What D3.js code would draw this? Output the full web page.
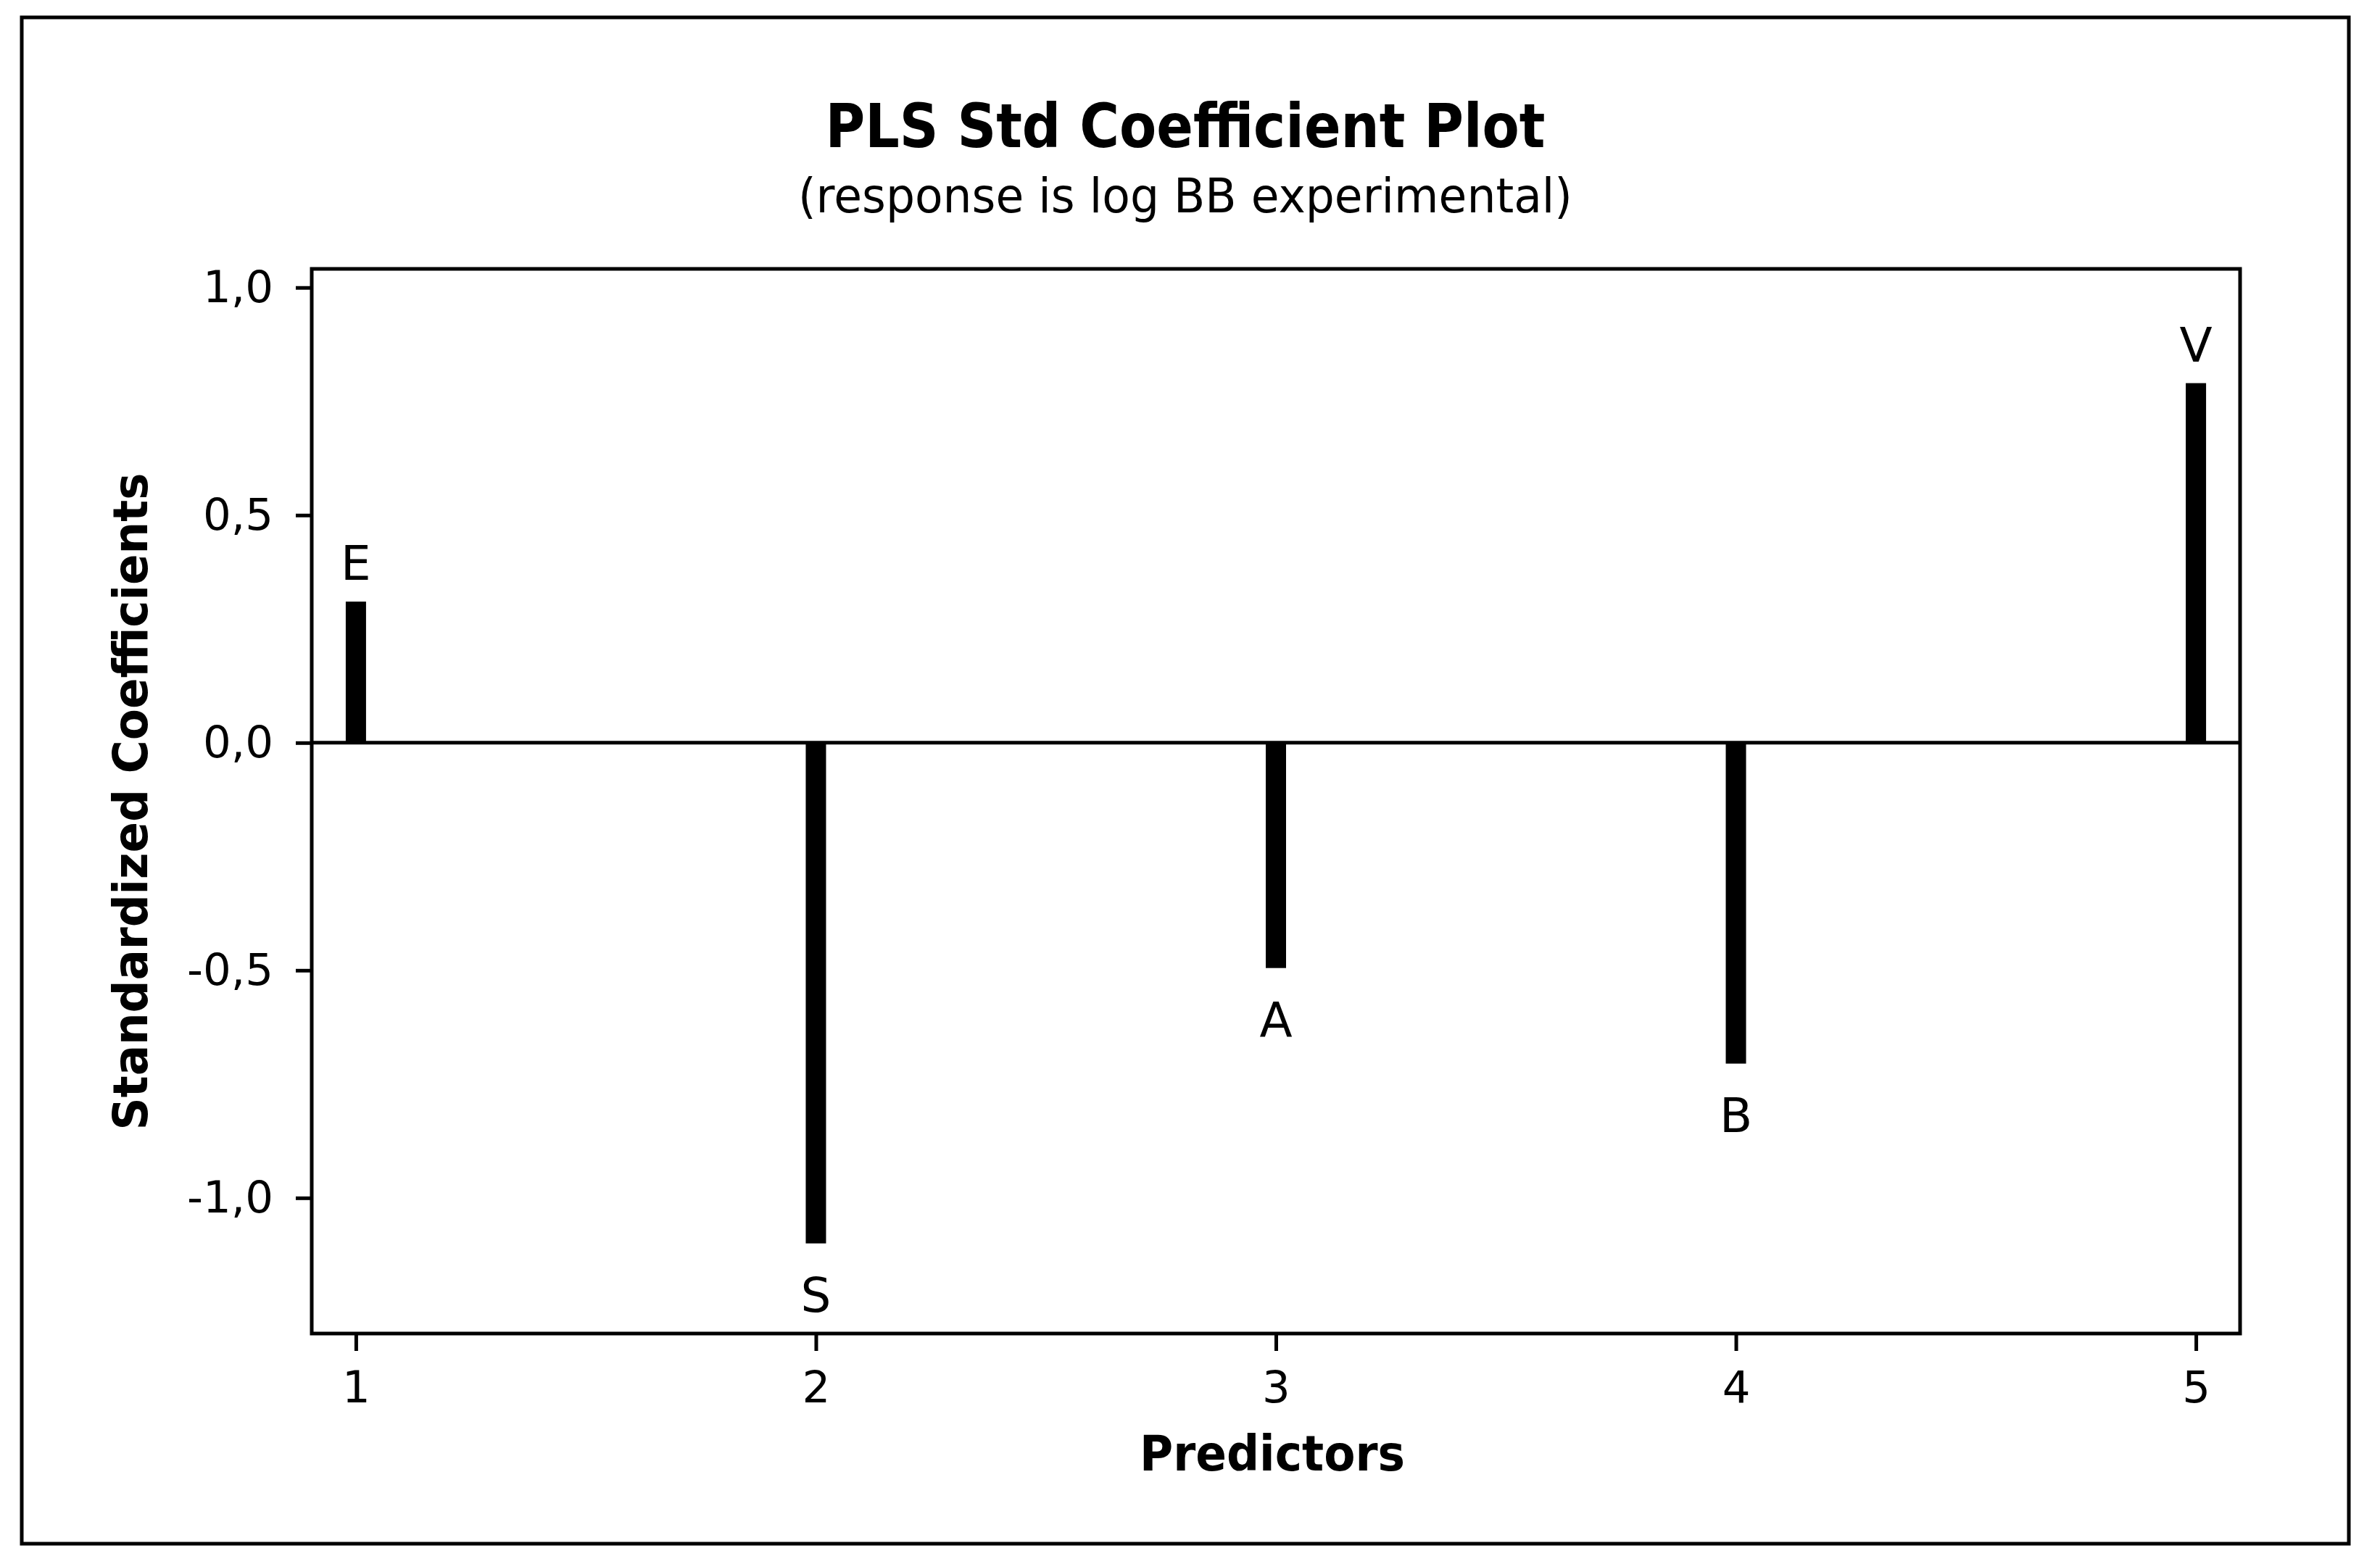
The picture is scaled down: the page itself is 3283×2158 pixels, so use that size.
<!DOCTYPE html>
<html>
<head>
<meta charset="utf-8">
<script src="https://cdn.jsdelivr.net/npm/d3@7"></script>
<style>
    body { margin: 0; background: #fff; }
    text { font-family: "DejaVu Sans", Verdana, sans-serif; fill: #000; }
</style>
</head>
<body>
<div id="plsChart"></div>
<script>
// data
var predictors = [1, 2, 3, 4, 5]
var predictorNames = ["E", "S", "A", "B", "V"]
var coefficients = [0.31, -1.10, -0.495, -0.705, 0.79]
var yTicks = [-1.0, -0.5, 0.0, 0.5, 1.0]
var yTickLabels = ["-1,0", "-0,5", "0,0", "0,5", "1,0"]
var xTickLabels = ["1", "2", "3", "4", "5"]

var W = 3283, H = 2158
var plot = { left: 430, right: 3090, top: 371, bottom: 1840 }

var svg = d3.select("#plsChart")
    .append("svg")
        .attr("width", W)
        .attr("height", H)

// outer border
svg.append("rect")
    .attr("x", 30).attr("y", 24)
    .attr("width", 3210).attr("height", 2106)
    .attr("fill", "none")
    .attr("stroke", "#000")
    .attr("stroke-width", 5)

// Title
svg.append("text")
    .attr("x", 1635)
    .attr("y", 203)
    .attr("text-anchor", "middle")
    .attr("font-size", "84px")
    .attr("font-weight", "bold")
    .attr("textLength", 993)
    .attr("lengthAdjust", "spacingAndGlyphs")
    .text("PLS Std Coefficient Plot")

svg.append("text")
    .attr("x", 1635)
    .attr("y", 293)
    .attr("text-anchor", "middle")
    .attr("font-size", "66px")
    .attr("textLength", 1068)
    .attr("lengthAdjust", "spacingAndGlyphs")
    .text("(response is log BB experimental)")

var x = d3.scaleLinear()
    .domain([0.904, 5.096])
    .range([plot.left, plot.right])

var y = d3.scaleLinear()
    .domain([-1.298, 1.041])
    .range([plot.bottom, plot.top])

// Y axis
var yAxisCall = d3.axisLeft(y)
    .tickValues(yTicks)
    .tickFormat(function(d, i) { return yTickLabels[i] })
    .tickSize(22)
    .tickPadding(31)
svg.append("g")
    .attr("class", "y-axis")
    .attr("transform", "translate(" + plot.left + ",0)")
    .call(yAxisCall)
    .call(function(g) { g.select(".domain").remove() })
    .call(function(g) {
        g.selectAll("line").attr("stroke", "#000").attr("stroke-width", 5)
        g.selectAll("text").attr("font-size", "61px").attr("font-family", "DejaVu Sans")
    })

// X axis
var xAxisCall = d3.axisBottom(x)
    .tickValues(predictors)
    .tickFormat(function(d, i) { return xTickLabels[i] })
    .tickSize(24)
    .tickPadding(28)
svg.append("g")
    .attr("class", "x-axis")
    .attr("transform", "translate(0," + plot.bottom + ")")
    .call(xAxisCall)
    .call(function(g) { g.select(".domain").remove() })
    .call(function(g) {
        g.selectAll("line").attr("stroke", "#000").attr("stroke-width", 5)
        g.selectAll("text").attr("font-size", "61px").attr("font-family", "DejaVu Sans")
    })

// zero reference line
svg.append("line")
    .attr("x1", plot.left).attr("x2", plot.right)
    .attr("y1", y(0)).attr("y2", y(0))
    .attr("stroke", "#000")
    .attr("stroke-width", 5)

// bars
var barW = 28
svg.selectAll(".bar")
    .data(coefficients)
    .enter().append("rect")
        .attr("class", "bar")
        .attr("x", function(d, i) { return x(predictors[i]) - barW / 2 })
        .attr("y", function(d) { return Math.min(y(d), y(0)) })
        .attr("width", barW)
        .attr("height", function(d) { return Math.abs(y(d) - y(0)) })
        .attr("fill", "#000")

// bar letters
svg.selectAll(".barLabel")
    .data(coefficients)
    .enter().append("text")
        .attr("class", "barLabel")
        .attr("x", function(d, i) { return x(predictors[i]) })
        .attr("y", function(d) { return d >= 0 ? y(d) - 30 : y(d) + 94 })
        .attr("text-anchor", "middle")
        .attr("font-size", "66px")
        .text(function(d, i) { return predictorNames[i] })

// plot frame
svg.append("rect")
    .attr("x", plot.left).attr("y", plot.top)
    .attr("width", plot.right - plot.left)
    .attr("height", plot.bottom - plot.top)
    .attr("fill", "none")
    .attr("stroke", "#000")
    .attr("stroke-width", 5)

// axis labels
svg.append("text")
    .attr("x", 1755)
    .attr("y", 2029)
    .attr("text-anchor", "middle")
    .attr("font-size", "68px")
    .attr("font-weight", "bold")
    .attr("textLength", 366)
    .attr("lengthAdjust", "spacingAndGlyphs")
    .text("Predictors")

svg.append("text")
    .attr("transform", "translate(203,1106) rotate(-90)")
    .attr("text-anchor", "middle")
    .attr("font-size", "66px")
    .attr("font-weight", "bold")
    .attr("textLength", 907)
    .attr("lengthAdjust", "spacingAndGlyphs")
    .text("Standardized Coefficients")
</script>
</body>
</html>
